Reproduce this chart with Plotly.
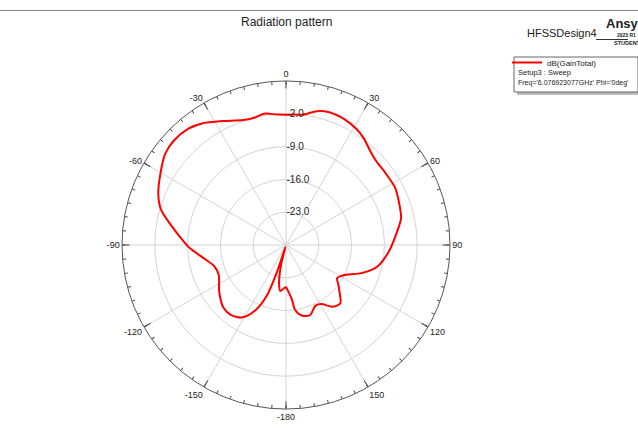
import plotly.graph_objects as go

# ---- data ----
theta_deg = [-180, -177, -173, -170, -166, -164, -162, -161.5, -159.5, -155, -149, -142,
             -135, -125, -114, -107, -100, -92, -87, -80, -74, -68, -60, -53, -47, -40,
             -34, -27, -19, -14, -9, -4, 0, 4, 7, 13, 18, 25, 31, 36, 41, 47, 54, 62, 69,
             77, 84, 93, 103, 110, 118, 123, 127, 131, 137, 143, 149, 154, 161, 167, 172,
             174, 177, 180]
gain_db = [-21.0, -20.7, -20.1, -21.5, -25.5, -29.5, -27.9, -23.9, -18.8, -14.7, -12.0, -11.0,
           -11.1, -12.6, -14.3, -14.1, -12.5, -9.5, -7.8, -5.0, -2.2, -0.6, 0.9, 2.3, 2.7, 2.4,
           1.4, -0.3, -1.8, -2.0, -1.6, -2.1, -2.2, -2.1, -2.0, -0.7, -0.2, -0.4, -1.0, -1.8,
           -2.9, -3.7, -3.8, -3.7, -4.2, -4.8, -6.3, -7.9, -9.9, -12.6, -16.2, -17.0, -16.0,
           -14.9, -13.0, -13.5, -15.3, -15.6, -14.2, -14.5, -16.0, -18.5, -20.0, -21.0]

ang_tickvals = [0, 30, 60, 90, 120, 150, 180, 210, 240, 270, 300, 330]
ang_ticktext = ["0", "30", "60", "90", "120", "150", "-180", "-150", "-120", "-90", "-60", "-30"]
minor_tickvals = list(range(0, 360, 5))
rad_tickvals = [-23, -16, -9, -2]
rad_ticktext = ["-23.0", "-16.0", "-9.0", "-2.0"]
rad_range = [-30, 5]

W, H = 638, 433
def px(x):
    return x / W
def py(y):
    return 1 - y / H

cx, cy, R = 286, 245, 164
dom_x = [px(cx - R), px(cx + R)]
dom_y = [py(cy + R), py(cy - R)]

FONT = "Liberation Sans, Arial, sans-serif"

fig = go.Figure()
fig.add_trace(go.Scatterpolar(
    r=gain_db, theta=theta_deg, mode="lines",
    line=dict(color="#ff0000", width=2, shape="spline", smoothing=0.8),
    name="dB(GainTotal)", subplot="polar", showlegend=True))
fig.add_trace(go.Scatterpolar(
    r=[rad_range[0]], theta=[0], mode="markers", marker=dict(size=0.1, opacity=0),
    subplot="polar2", showlegend=False, hoverinfo="skip"))

fig.update_layout(
    width=W, height=H,
    margin=dict(l=0, r=0, t=0, b=0),
    paper_bgcolor="white",
    font=dict(family=FONT, color="#222222"),
    polar=dict(
        domain=dict(x=dom_x, y=dom_y),
        bgcolor="white",
        angularaxis=dict(
            rotation=90, direction="clockwise",
            tickmode="array", tickvals=ang_tickvals, ticktext=ang_ticktext,
            ticks="inside", ticklen=7, tickcolor="#444444", tickwidth=1,
            tickfont=dict(size=9, color="#222222"),
            showline=True, linecolor="#555555", linewidth=1,
            showgrid=True, gridcolor="#d4d4d4", gridwidth=1),
        radialaxis=dict(
            range=rad_range, angle=90, tickangle=90, side="clockwise",
            tickmode="array", tickvals=rad_tickvals, ticktext=rad_ticktext,
            tickfont=dict(size=10, color="#222222"),
            showline=False, ticks="",
            showgrid=True, gridcolor="#d4d4d4", gridwidth=1),
    ),
    polar2=dict(
        domain=dict(x=dom_x, y=dom_y),
        bgcolor="rgba(0,0,0,0)",
        angularaxis=dict(
            rotation=90, direction="clockwise",
            tickmode="array", tickvals=minor_tickvals,
            ticks="inside", ticklen=3, tickcolor="#444444",
            showticklabels=False, showline=False, showgrid=False),
        radialaxis=dict(range=rad_range, visible=False),
    ),
    showlegend=True,
    legend=dict(x=px(507), y=py(48), xanchor="left", yanchor="top",
                bgcolor="rgba(0,0,0,0)", borderwidth=0,
                font=dict(size=8, color="#222222"),
                itemwidth=30, tracegroupgap=0),
)

# header separator and legend box
fig.add_shape(type="line", xref="paper", yref="paper",
              x0=0, x1=1, y0=py(10.5), y1=py(10.5), line=dict(color="#888888", width=1))
fig.add_shape(type="rect", xref="paper", yref="paper",
              x0=px(517), x1=px(641), y0=py(60), y1=py(95),
              line=dict(width=0), fillcolor="#bbbbbb", layer="below")
fig.add_shape(type="rect", xref="paper", yref="paper",
              x0=px(514), x1=px(638), y0=py(57), y1=py(92),
              line=dict(color="#666666", width=1), fillcolor="white", layer="below")
fig.add_shape(type="line", xref="paper", yref="paper",
              x0=px(596), x1=px(628), y0=py(39.5), y1=py(39.5),
              line=dict(color="#333333", width=1))

ann = [
    dict(text="Radiation pattern", x=px(286), y=py(22), size=12, xanchor="center"),
    dict(text="HFSSDesign4", x=px(525), y=py(33), size=11, xanchor="left"),
    dict(text="<b>Ansys</b>", x=px(604), y=py(24), size=13, xanchor="left"),
    dict(text="<b>2023 R1</b>", x=px(615), y=py(35), size=5, xanchor="left"),
    dict(text="<b>STUDENT</b>", x=px(612), y=py(43), size=5.5, xanchor="left"),
    dict(text="Setup3 : Sweep", x=px(516), y=py(73), size=7.5, xanchor="left"),
    dict(text="Freq='6.076923077GHz' Phi='0deg'", x=px(516), y=py(83), size=7, xanchor="left"),
]
for a in ann:
    fig.add_annotation(text=a["text"], x=a["x"], y=a["y"], xref="paper", yref="paper",
                       xanchor=a["xanchor"], yanchor="middle", showarrow=False,
                       font=dict(size=a["size"], color="#222222", family=FONT))

fig.write_html("out.html")
